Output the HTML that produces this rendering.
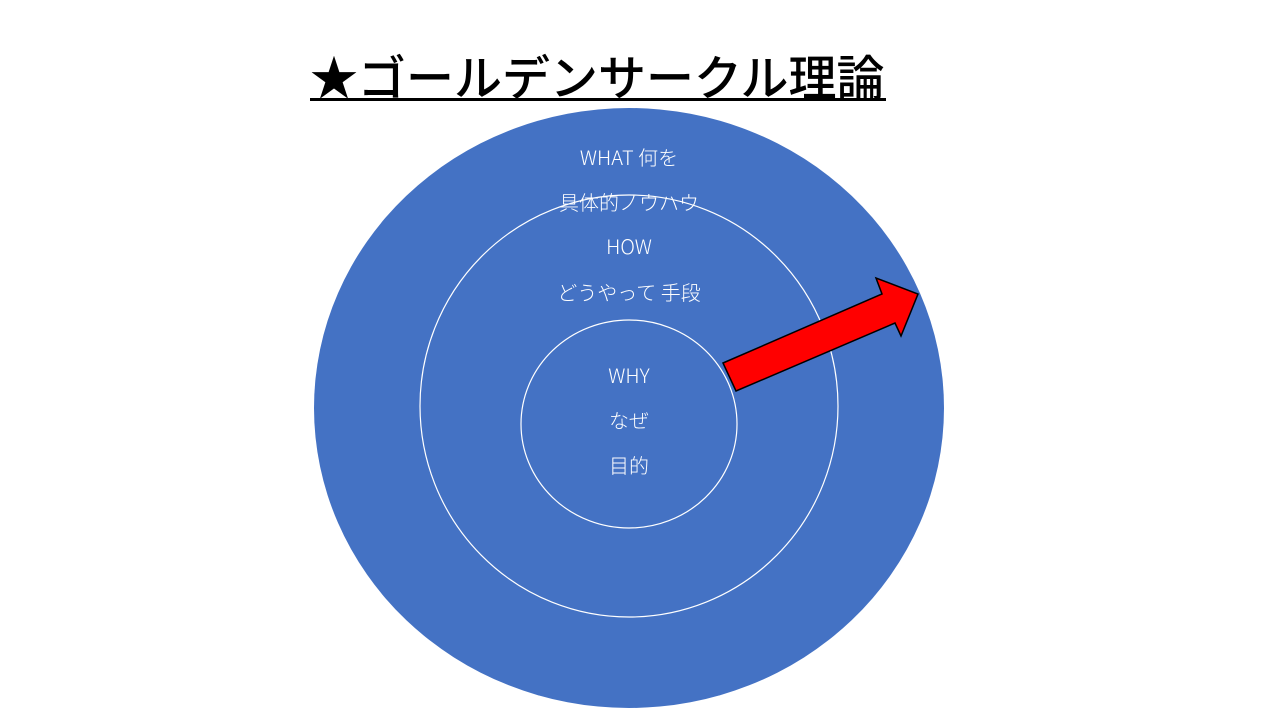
<!DOCTYPE html>
<html><head><meta charset="utf-8"><style>
body{margin:0;width:1280px;height:720px;background:#fff;overflow:hidden;position:relative;font-family:"Liberation Sans","Noto Sans CJK JP",sans-serif}
.t{position:absolute;left:310px;top:46px;width:576px;font-size:48px;line-height:56px;font-family:"Noto Sans CJK JP",sans-serif;font-weight:500;color:#000;white-space:nowrap}
.u{position:absolute;left:310px;top:98px;width:576px;height:3px;background:#000}
</style></head><body>
<div class="t">★ゴールデンサークル理論</div>
<div class="u"></div>
<svg width="1280" height="720" style="position:absolute;left:0;top:0" viewBox="0 0 1280 720">
<ellipse cx="629" cy="408" rx="315" ry="300" fill="#4472c4"/>
<ellipse cx="629" cy="406" rx="209" ry="211" fill="none" stroke="#fff" stroke-width="1.2"/>
<ellipse cx="629" cy="424" rx="108" ry="104" fill="none" stroke="#fff" stroke-width="1.2"/>
<polygon points="723,363 882,294 876,278 918,294 901,336 895,323 736,391" fill="#f00" stroke="#000" stroke-width="1.5"/>
<g fill="#fff" font-size="20" font-weight="300" text-anchor="middle" font-family="Noto Sans CJK JP, sans-serif">
<text x="629" y="165">WHAT 何を</text>
<text x="629" y="210">具体的ノウハウ</text>
<text x="629" y="254">HOW</text>
<text x="629" y="300">どうやって 手段</text>
<text x="629" y="383">WHY</text>
<text x="629" y="428">なぜ</text>
<text x="629" y="473">目的</text>
</g>
</svg>
</body></html>
